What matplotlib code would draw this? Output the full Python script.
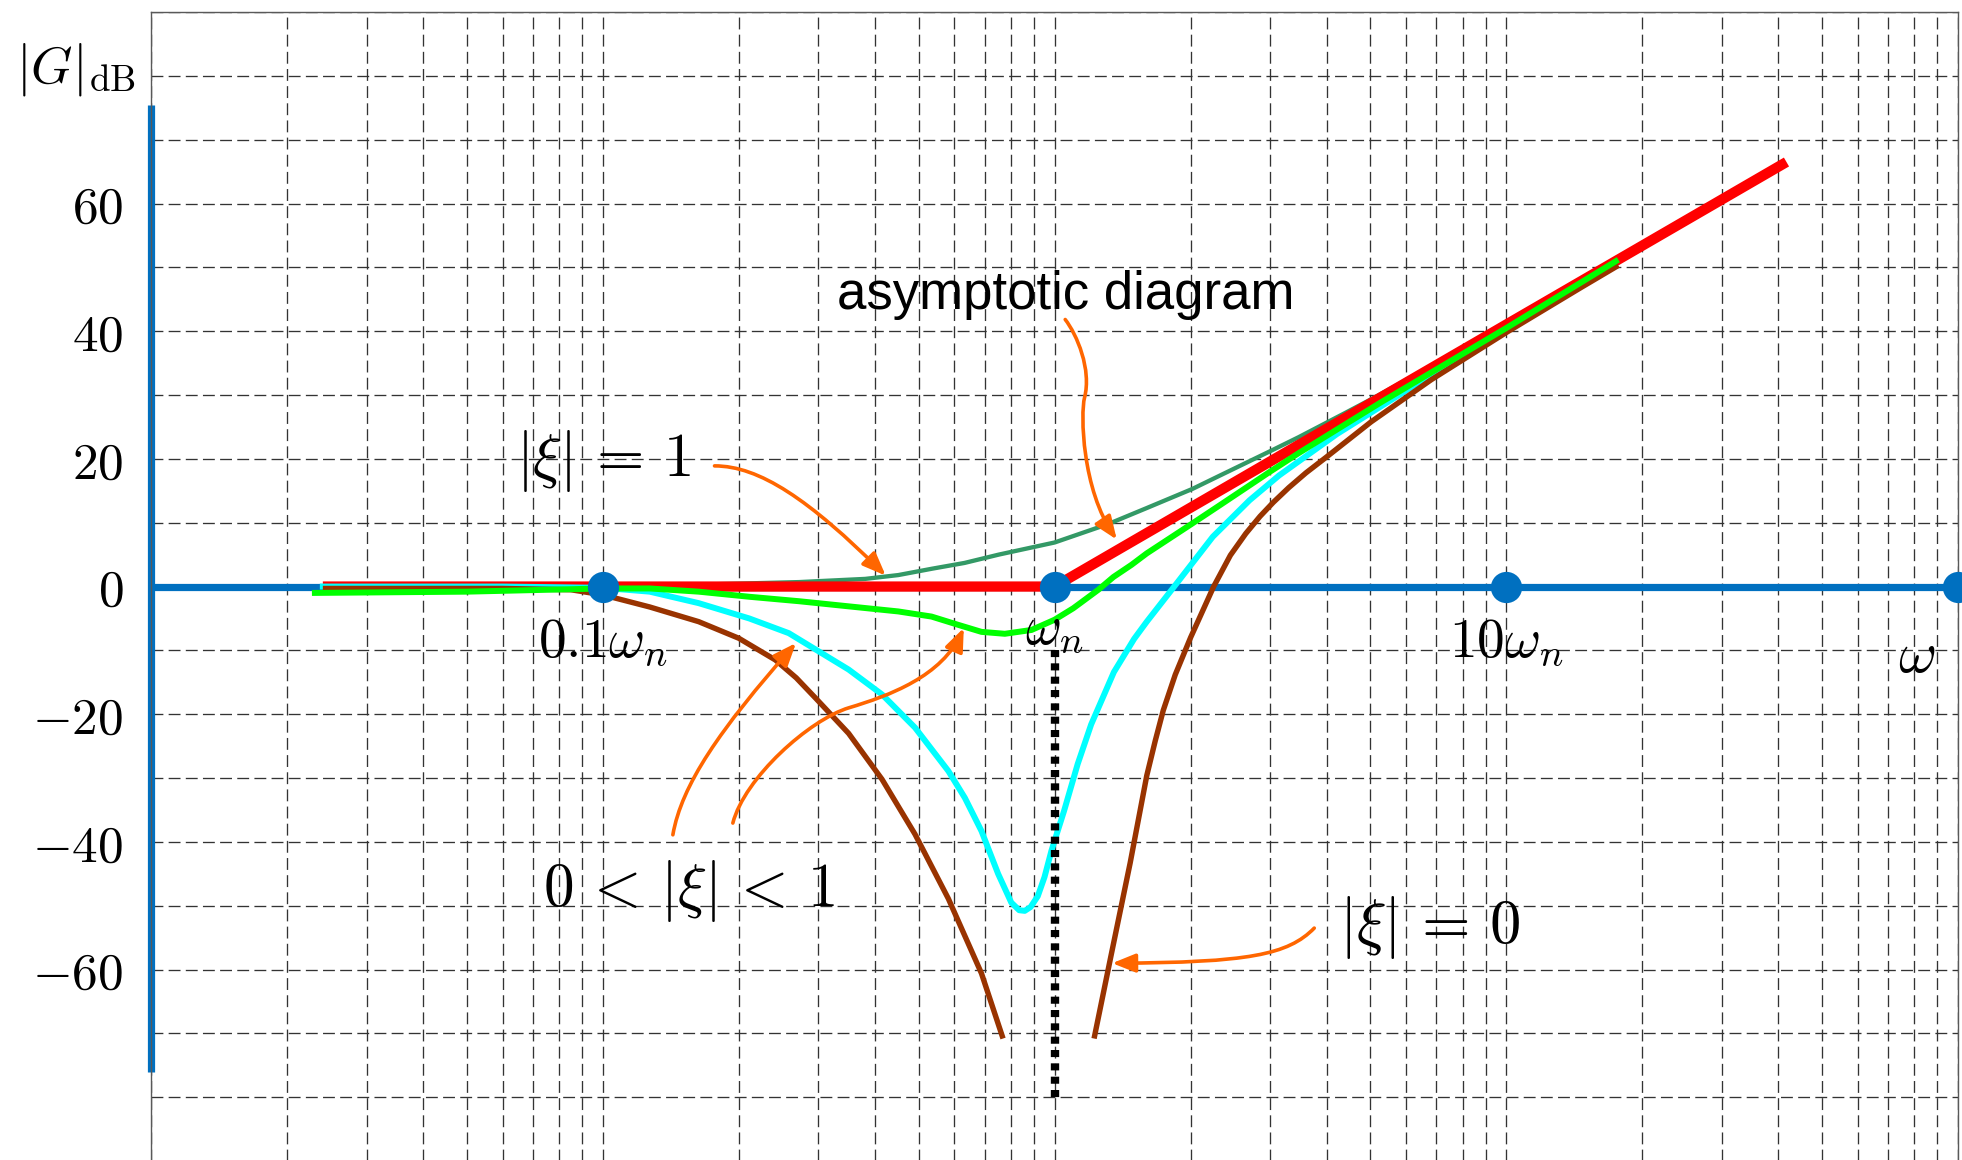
"""
Bode magnitude of a second-order factor |G| (in dB) versus omega,
asymptotic diagram plus hand-traced curves for several damping ratios.
"""

import matplotlib
matplotlib.use('Agg')  # non-interactive backend
import matplotlib.pyplot as plt
from matplotlib.path import Path
from matplotlib.patches import FancyArrowPatch
from matplotlib.ticker import LogLocator, FixedLocator, MultipleLocator, NullFormatter


# ---- data: frequency in units of wn, magnitude in dB ----

# asymptotic diagram: flat up to wn, then rising
asym_w = [0.024, 1.0, 41.7]
asym_db = [0.0, 0.0, 66.5]

# |xi| = 1
xi1_w = [0.024, 0.1, 0.163, 0.272, 0.381, 0.451, 0.536, 0.632, 0.752, 1.0,
         1.315, 1.6, 2.02, 2.34, 3.02, 3.47, 4.4, 5.04, 6.5, 10.0]
xi1_db = [0.0, 0.0, 0.3, 0.7, 1.2, 1.8, 2.8, 3.7, 5.0, 6.9,
          9.8, 12.3, 15.3, 17.5, 21.3, 23.4, 27.2, 29.4, 33.7, 41.2]

# moderate damping (0 < |xi| < 1)
xim_w = [0.0227, 0.05, 0.1, 0.127, 0.163, 0.211, 0.272, 0.35, 0.451, 0.534,
         0.612, 0.689, 0.776, 0.889, 1.0, 1.1, 1.25, 1.35, 1.48, 1.6,
         2.02, 2.34, 3.0, 3.47, 5.29, 10.0, 17.7]
xim_db = [-1.0, -0.8, -0.3, -0.3, -0.8, -1.6, -2.3, -3.1, -3.9, -4.7,
          -6.0, -7.1, -7.4, -6.8, -5.2, -3.4, -0.5, 1.5, 3.4, 5.2,
          9.9, 12.9, 18.0, 20.9, 28.9, 40.5, 51.2]

# light damping (0 < |xi| < 1, small)
xis_w = [0.024, 0.06, 0.1, 0.127, 0.163, 0.211, 0.258, 0.35, 0.415, 0.491,
         0.582, 0.633, 0.689, 0.75, 0.802, 0.835, 0.859, 0.885, 0.918, 0.95,
         0.984, 1.05, 1.125, 1.205, 1.353, 1.5, 1.6, 1.84, 2.24, 2.7,
         3.14, 4.22, 5.67, 8.0]
xis_db = [0.0, 0.0, -0.2, -0.8, -2.6, -5.0, -7.3, -13.0, -16.9, -22.1,
          -28.9, -33.1, -38.3, -45.0, -49.5, -50.7, -50.8, -50.2, -48.5, -45.5,
          -41.4, -35.1, -27.8, -21.6, -13.4, -8.2, -5.5, 0.0, 7.8, 13.5,
          17.4, 23.9, 29.6, 36.3]

# |xi| = 0, two branches around the notch at wn
xi0_lo_w = [0.024, 0.06, 0.085, 0.1, 0.127, 0.163, 0.2, 0.241, 0.268, 0.296,
            0.35, 0.415, 0.491, 0.582, 0.689, 0.769]
xi0_lo_db = [-0.3, -0.3, -0.5, -1.3, -3.2, -5.5, -8.1, -11.5, -14.3, -17.5,
             -23.0, -30.2, -38.8, -48.9, -60.6, -70.8]
xi0_hi_w = [1.223, 1.33, 1.47, 1.6, 1.67, 1.74, 1.85, 2.0, 2.25, 2.45,
            2.65, 2.85, 3.05, 3.3, 3.6, 4.0, 5.02, 6.82, 10.0, 14.6, 17.7]
xi0_hi_db = [-70.8, -58.2, -43.3, -29.6, -24.2, -19.4, -13.8, -8.0, 0.0, 4.9,
             8.3, 11.0, 13.2, 15.5, 17.8, 20.3, 25.8, 32.4, 39.8, 46.8, 50.3]

# marked frequencies on the omega axis, with label baselines (dB)
mark_w = [0.1, 1.0, 10.0, 100.0]
mark_db = [0.0, 0.0, 0.0, 0.0]
mark_labels = [r'$0.1\omega_n$', r'$\omega_n$', r'$10\omega_n$']
mark_label_base = [-10.9, -8.9, -10.9]

y_ticks = [-60, -40, -20, 0, 20, 40, 60]
y_ticklabels = [r'$-60$', r'$-40$', r'$-20$', r'$0$', r'$20$', r'$40$', r'$60$']

# annotation arrows as cubic Bezier control points (omega, dB)
arrow_asym = [(1.0557, 41.83), (1.1202, 39.48), (1.2089, 34.0), (1.1648, 29.56),
              (1.1414, 27.1), (1.1490, 15.19), (1.373, 7.35)]
arrow_xi1 = [(0.1767, 18.9), (0.2221, 18.9), (0.2864, 13.62), (0.4229, 1.71)]
arrow_mid1 = [(0.1429, -38.89), (0.1494, -31.05), (0.1813, -22.43), (0.2677, -8.84)]
arrow_mid2 = [(0.1940, -37.05), (0.2058, -30.0), (0.2864, -20.86), (0.3509, -18.98),
              (0.4301, -17.1), (0.5640, -14.08), (0.6296, -6.49)]
arrow_xi0 = [(3.757, -53.5), (3.286, -57.7), (2.681, -58.9), (1.341, -59.0)]


# ---- styling ----
plt.rcParams['mathtext.fontset'] = 'cm'

BLUE = '#0070c0'
ORANGE = '#ff6600'
RED = '#ff0000'
GREEN = '#00ff00'
CYAN = '#00ffff'
BROWN = '#993300'
SEAGREEN = '#339966'

fig = plt.figure(figsize=(19.62, 11.6), dpi=100)
ax = fig.add_axes([0.0770, -0.00095, 0.9210, 0.99061])
ax.set_xscale('log')
ax.set_xlim(0.01, 100)
ax.set_ylim(-90, 90)

# log grid on omega, 10 dB grid on magnitude
ax.xaxis.set_major_locator(LogLocator(base=10, numticks=12))
ax.xaxis.set_minor_locator(LogLocator(base=10, subs=range(2, 10), numticks=12))
ax.xaxis.set_major_formatter(NullFormatter())
ax.xaxis.set_minor_formatter(NullFormatter())
ax.yaxis.set_major_locator(FixedLocator(y_ticks))
ax.set_yticklabels(y_ticklabels)
ax.yaxis.set_minor_locator(MultipleLocator(10))
ax.tick_params(which='both', length=0)
ax.tick_params(axis='y', pad=20, labelsize=37)
ax.grid(True, which='both', color='#333333', lw=0.95, ls=(0, (9, 4)))
ax.set_axisbelow(True)

ax.spines['bottom'].set_visible(False)
for side in ('top', 'left', 'right'):
    ax.spines[side].set_color('0.35')
    ax.spines[side].set_linewidth(1.0)

# axes drawn in blue
ax.plot([0.01, 100], [0, 0], color=BLUE, lw=5.2, zorder=2, clip_on=False,
        solid_capstyle='butt')
ax.plot([0.01, 0.01], [-76, 75.5], color=BLUE, lw=5.2, zorder=2, clip_on=False,
        solid_capstyle='butt')

# curves
ax.plot(xi1_w, xi1_db, color=SEAGREEN, lw=3.1, zorder=3)
ax.plot(asym_w, asym_db, color=RED, lw=7.4, zorder=4, solid_capstyle='butt')
ax.plot(xis_w, xis_db, color=CYAN, lw=4.3, zorder=5)
ax.plot(xi0_lo_w, xi0_lo_db, color=BROWN, lw=3.9, zorder=6, solid_capstyle='butt')
ax.plot(xi0_hi_w, xi0_hi_db, color=BROWN, lw=3.9, zorder=6, solid_capstyle='butt')
ax.plot(xim_w, xim_db, color=GREEN, lw=4.3, zorder=7, solid_capstyle='butt')

# dotted line at the natural frequency
ax.plot([1.0, 1.0], [-10, -80.5], color='black', lw=6, ls=(0, (0.85, 0.75)),
        dash_capstyle='butt', zorder=8)

# markers on the omega axis
ax.plot(mark_w, mark_db, 'o', color=BLUE, ms=22.5, mec='none', zorder=10,
        clip_on=False)

# axis labels
for w, base, lab in zip(mark_w[:3], mark_label_base, mark_labels):
    ax.text(w, base, lab, ha='center', va='baseline', fontsize=40, zorder=11)
ax.text(81, -13.4, r'$\omega$', ha='center', va='baseline', fontsize=42, zorder=11)
ax.text(0.0068, 79, r'$|G|_{\mathrm{dB}}$', ha='center', va='baseline',
        fontsize=38, zorder=11)

# annotations
ax.text(1.056, 43.5, 'asymptotic diagram', ha='center', va='baseline',
        fontsize=38, family='Liberation Sans', zorder=11)
ax.text(0.1005, 17.3, r'$|\xi|\,=\,1$', ha='center', va='baseline',
        fontsize=44, zorder=11)
ax.text(0.1556, -50.1, r'$0\,<\,|\xi|\,<\,1$', ha='center', va='baseline',
        fontsize=44, zorder=11)
ax.text(6.78, -55.8, r'$|\xi|\,=\,0$', ha='center', va='baseline',
        fontsize=45, zorder=11)


def bezier_arrow(points):
    codes = [Path.MOVETO] + [Path.CURVE4] * (len(points) - 1)
    arrow = FancyArrowPatch(path=Path(points, codes),
                            arrowstyle='-|>,head_length=0.7,head_width=0.28',
                            mutation_scale=20, color=ORANGE, lw=2.6,
                            transform=ax.transData, zorder=9)
    ax.add_patch(arrow)


for pts in (arrow_asym, arrow_xi1, arrow_mid1, arrow_mid2, arrow_xi0):
    bezier_arrow(pts)

fig.savefig('out.png', dpi=100)
plt.close(fig)
